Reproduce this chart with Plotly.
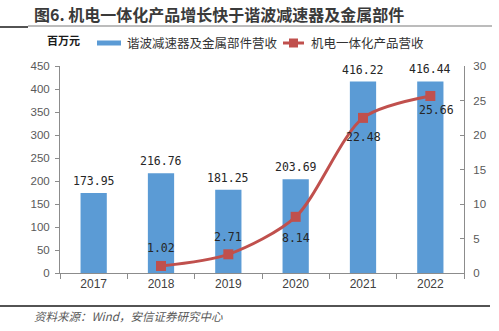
import plotly.graph_objects as go

# Data (百万元)
years = ["2017", "2018", "2019", "2020", "2021", "2022"]
harmonic_rev = [173.95, 216.76, 181.25, 203.69, 416.22, 416.44]
mech_years = ["2018", "2019", "2020", "2021", "2022"]
mech_rev = [1.02, 2.71, 8.14, 22.48, 25.66]

# label offsets for the line values (px): (xshift, yshift)
mech_label_shift = [(0, 18), (0, 17), (0, -21), (0, -19), (6, -14)]

W, H = 499, 331
ML, MR, MT, MB = 60, 35, 66, 58
PW, PH = W - ML - MR, H - MT - MB

def px(x):
    return (x - ML) / PW

def py(y):
    return (H - MB - y) / PH

BLUE = "#5B9BD5"
RED = "#C0504D"
AXIS = "#8C8C8C"
TICKC = "#595959"
CJK = "Noto Sans CJK SC"
NUM = "DejaVu Sans Mono"

# category positions on the x axis
pos = {y: i for i, y in enumerate(years)}
bar_x = [pos[y] for y in years]
mech_x = [pos[y] for y in mech_years]

fig = go.Figure()
fig.add_trace(go.Bar(
    x=bar_x, y=harmonic_rev, name="谐波减速器及金属部件营收",
    marker=dict(color=BLUE, line=dict(width=0)), width=0.39, yaxis="y",
))
fig.add_trace(go.Scatter(
    x=mech_x, y=mech_rev, name="机电一体化产品营收", yaxis="y2",
    mode="lines+markers",
    line=dict(color=RED, width=3, shape="spline", smoothing=0.8),
    marker=dict(symbol="square", size=10, color=RED),
))

ann = []
for c, v in zip(bar_x, harmonic_rev):
    ann.append(dict(x=c, y=v, xref="x", yref="y", text=f"{v:.2f}",
                    showarrow=False, yanchor="middle", yshift=12,
                    font=dict(family=NUM, size=11.5, color="#262626")))
for (c, v), (dx, dy) in zip(zip(mech_x, mech_rev), mech_label_shift):
    ann.append(dict(x=c, y=v, xref="x", yref="y2", text=f"{v:.2f}",
                    showarrow=False, yanchor="middle", xshift=dx, yshift=dy,
                    font=dict(family=NUM, size=11.5, color="#262626")))

# title, unit, legend and source
ann.append(dict(x=px(32), y=py(14), xref="paper", yref="paper",
                text="<b>图6. 机电一体化产品增长快于谐波减速器及金属部件</b>",
                showarrow=False, xanchor="left", yanchor="middle",
                font=dict(family=CJK, size=16, color="#3a3a3a")))
ann.append(dict(x=px(45), y=py(40), xref="paper", yref="paper",
                text="<b>百万元</b>", showarrow=False, xanchor="left", yanchor="middle",
                font=dict(family=CJK, size=11, color="#1a1a1a")))
ann.append(dict(x=px(125), y=py(43), xref="paper", yref="paper",
                text="谐波减速器及金属部件营收", showarrow=False, xanchor="left",
                yanchor="middle", font=dict(family=CJK, size=12.5, color="#333333")))
ann.append(dict(x=px(309), y=py(43), xref="paper", yref="paper",
                text="机电一体化产品营收", showarrow=False, xanchor="left",
                yanchor="middle", font=dict(family=CJK, size=12.5, color="#333333")))
ann.append(dict(x=px(32), y=py(316), xref="paper", yref="paper",
                text="<i>资料来源：Wind，安信证券研究中心</i>", showarrow=False,
                xanchor="left", yanchor="middle",
                font=dict(family=CJK, size=11.5, color="#595959")))

shapes = [
    # title rule
    dict(type="line", xref="paper", yref="paper", x0=px(0), x1=px(28),
         y0=py(27), y1=py(27), line=dict(color="#1a1a1a", width=1.5)),
    dict(type="line", xref="paper", yref="paper", x0=px(28), x1=px(492),
         y0=py(26), y1=py(26), line=dict(color="#A6A6A6", width=1.5)),
    # bottom rule
    dict(type="line", xref="paper", yref="paper", x0=px(0), x1=px(490),
         y0=py(306), y1=py(306), line=dict(color="#1a1a1a", width=1.5)),
    # legend swatches
    dict(type="rect", xref="paper", yref="paper", x0=px(97), x1=px(121),
         y0=py(45.5), y1=py(40.5), fillcolor=BLUE, line=dict(width=0)),
    dict(type="line", xref="paper", yref="paper", x0=px(283), x1=px(304),
         y0=py(43), y1=py(43), line=dict(color=RED, width=3)),
    dict(type="rect", xref="paper", yref="paper", x0=px(289), x1=px(298),
         y0=py(47.5), y1=py(38.5), fillcolor=RED, line=dict(width=0)),
]

fig.update_layout(
    width=W, height=H,
    margin=dict(l=ML, r=MR, t=MT, b=MB),
    paper_bgcolor="white", plot_bgcolor="white",
    showlegend=False,
    annotations=ann, shapes=shapes,
    xaxis=dict(range=[-0.5, len(years) - 0.5],
               tickmode="array", tickvals=bar_x, ticktext=years, ticks="",
               showline=True, linecolor=AXIS, linewidth=1,
               minor=dict(tickmode="linear", tick0=-0.5, dtick=1,
                          ticks="outside", ticklen=5, tickcolor=AXIS, showgrid=False),
               tickfont=dict(family="Liberation Sans", size=12, color="#404040"),
               showgrid=False, zeroline=False, fixedrange=True),
    yaxis=dict(range=[0, 450], dtick=50, showline=True, linecolor=AXIS,
               linewidth=1, ticks="outside", ticklen=4, tickcolor=AXIS,
               tickfont=dict(family="Liberation Sans", size=11.5, color=TICKC),
               showgrid=False, zeroline=False, ticklabelstandoff=3),
    yaxis2=dict(range=[0, 30], dtick=5, overlaying="y", side="right",
                showline=True, linecolor=AXIS, linewidth=1, ticks="inside",
                ticklen=4, tickcolor=AXIS,
                tickfont=dict(family="Liberation Sans", size=11.5, color=TICKC),
                showgrid=False, zeroline=False, ticklabelstandoff=6),
)

fig.write_html("out.html")
